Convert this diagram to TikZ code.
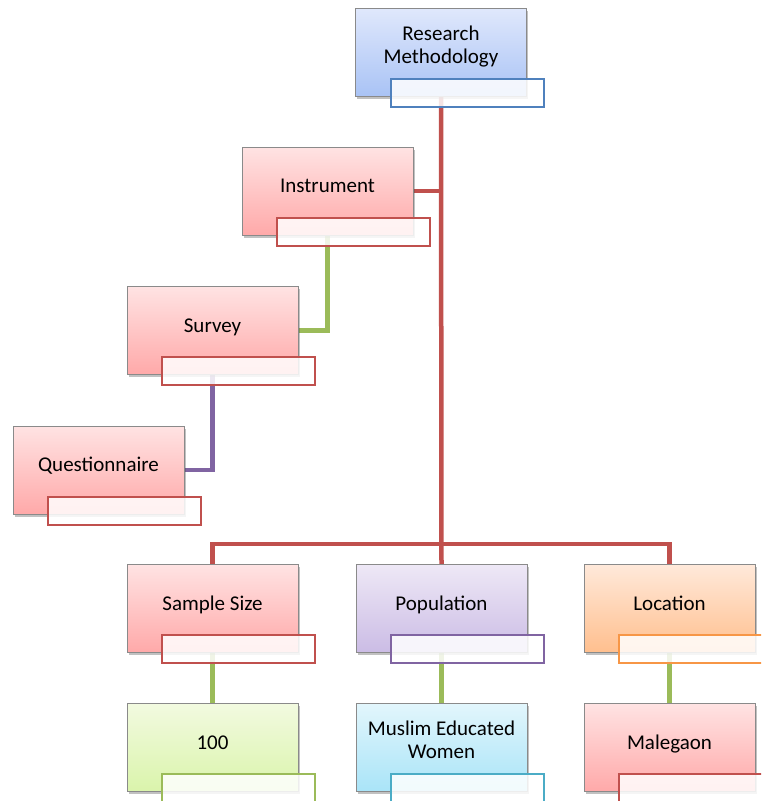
\documentclass[tikz,border=0pt]{standalone}
\usepackage{fontspec}
\setmainfont{Carlito}
\usetikzlibrary{positioning,calc,shadows,backgrounds}
\definecolor{linered}{HTML}{C0504D}
\definecolor{linegreen}{HTML}{9BBB59}
\definecolor{linepurple}{HTML}{8064A2}
\definecolor{edgeblue}{HTML}{4F81BD}
\definecolor{edgeorange}{HTML}{F79646}
\definecolor{edgeaqua}{HTML}{4BACC6}
\definecolor{boxgrey}{HTML}{8A8A8A}
\definecolor{bluetop}{HTML}{E0E8FC}
\definecolor{bluebot}{HTML}{A9C3F5}
\definecolor{redtop}{HTML}{FFE3E3}
\definecolor{redbot}{HTML}{FFA9A9}
\definecolor{purptop}{HTML}{EEE8F6}
\definecolor{purpbot}{HTML}{CBBCE5}
\definecolor{orangetop}{HTML}{FFE9DA}
\definecolor{orangebot}{HTML}{FFBF8E}
\definecolor{greentop}{HTML}{F2FAE0}
\definecolor{greenbot}{HTML}{DAF4AB}
\definecolor{aquatop}{HTML}{E2F6FC}
\definecolor{aquabot}{HTML}{A9E4F8}

\tikzset{
  box/.style={draw=boxgrey, line width=0.8pt, minimum width=171pt, minimum height=88pt,
    inner sep=0pt, align=center, font=\fontsize{21}{23}\selectfont,
    text height=14.5pt, text depth=11pt,
    drop shadow={shadow xshift=1.5pt, shadow yshift=-2.5pt, opacity=0.35, fill=black!70}},
  twoline/.style={text height=37.5pt, text depth=15.5pt},
  boxblue/.style={box, top color=bluetop, bottom color=bluebot},
  boxred/.style={box, top color=redtop, bottom color=redbot},
  boxpurple/.style={box, top color=purptop, bottom color=purpbot},
  boxorange/.style={box, top color=orangetop, bottom color=orangebot},
  boxgreen/.style={box, top color=greentop, bottom color=greenbot},
  boxaqua/.style={box, top color=aquatop, bottom color=aquabot},
  sub/.style={line width=2pt, fill=white, fill opacity=0.85, minimum width=153pt,
    minimum height=28pt, inner sep=0pt},
  link/.style={line width=4.5pt}
}

\begin{document}
\begin{tikzpicture}[x=1pt, y=1pt]

\useasboundingbox (0,0) rectangle (761,-801);
\clip (0,0) rectangle (761,-801);

% top
\node[boxblue, twoline] (rm) at (441,-52) {Research\\Methodology};
\node[sub, draw=edgeblue] (rmsub) at ($(rm.center)+(26,-40.5)$) {};

% instrument branch
\node[boxred] (instr) at (327.5,-191) {Instrument};
\node[sub, draw=linered] (instrsub) at ($(instr.center)+(26,-40.5)$) {};

\node[boxred] (survey) at (212.5,-330.5) {Survey};
\node[sub, draw=linered] (surveysub) at ($(survey.center)+(26,-40.5)$) {};

\node[boxred] (quest) at (98.5,-470) {Questionnaire};
\node[sub, draw=linered] (questsub) at ($(quest.center)+(26,-40.5)$) {};

% second row
\node[boxred] (samp) at (212.5,-608.5) {Sample Size};
\node[sub, draw=linered] (sampsub) at ($(samp.center)+(26,-40.5)$) {};

\node[boxpurple] (pop) at (441.5,-608.5) {Population};
\node[sub, draw=linepurple] (popsub) at ($(pop.center)+(26,-40.5)$) {};

\node[boxorange] (loc) at (669.5,-608.5) {Location};
\node[sub, draw=edgeorange] (locsub) at ($(loc.center)+(26,-40.5)$) {};

% third row
\node[boxgreen] (hund) at (212.5,-747.5) {100};
\node[sub, draw=linegreen] (hundsub) at ($(hund.center)+(26,-40.5)$) {};

\node[boxaqua, twoline] (musl) at (441.5,-747.5) {Muslim Educated\\Women};
\node[sub, draw=edgeaqua] (muslsub) at ($(musl.center)+(26,-40.5)$) {};

\node[boxred] (male) at (669.5,-747.5) {Malegaon};
\node[sub, draw=linered] (malesub) at ($(male.center)+(26,-40.5)$) {};

% connectors
\begin{scope}[on background layer]
  \coordinate (bus) at ($(pop.north)+(0,20)$);
  \draw[link, linered] (rm.south) -- (pop.north);
  \draw[link, linered] (samp.north) |- (bus) -| (loc.north);
  \draw[link, linered] (instr.east) -- (instr.east -| rm.south);
  \draw[link, linegreen] (instr.south) |- (survey.east);
  \draw[link, linepurple] (survey.south) |- (quest.east);
  \draw[link, linegreen] (samp.south) -- (hund.north);
  \draw[link, linegreen] (pop.south) -- (musl.north);
  \draw[link, linegreen] (loc.south) -- (male.north);
\end{scope}

\end{tikzpicture}
\end{document}
